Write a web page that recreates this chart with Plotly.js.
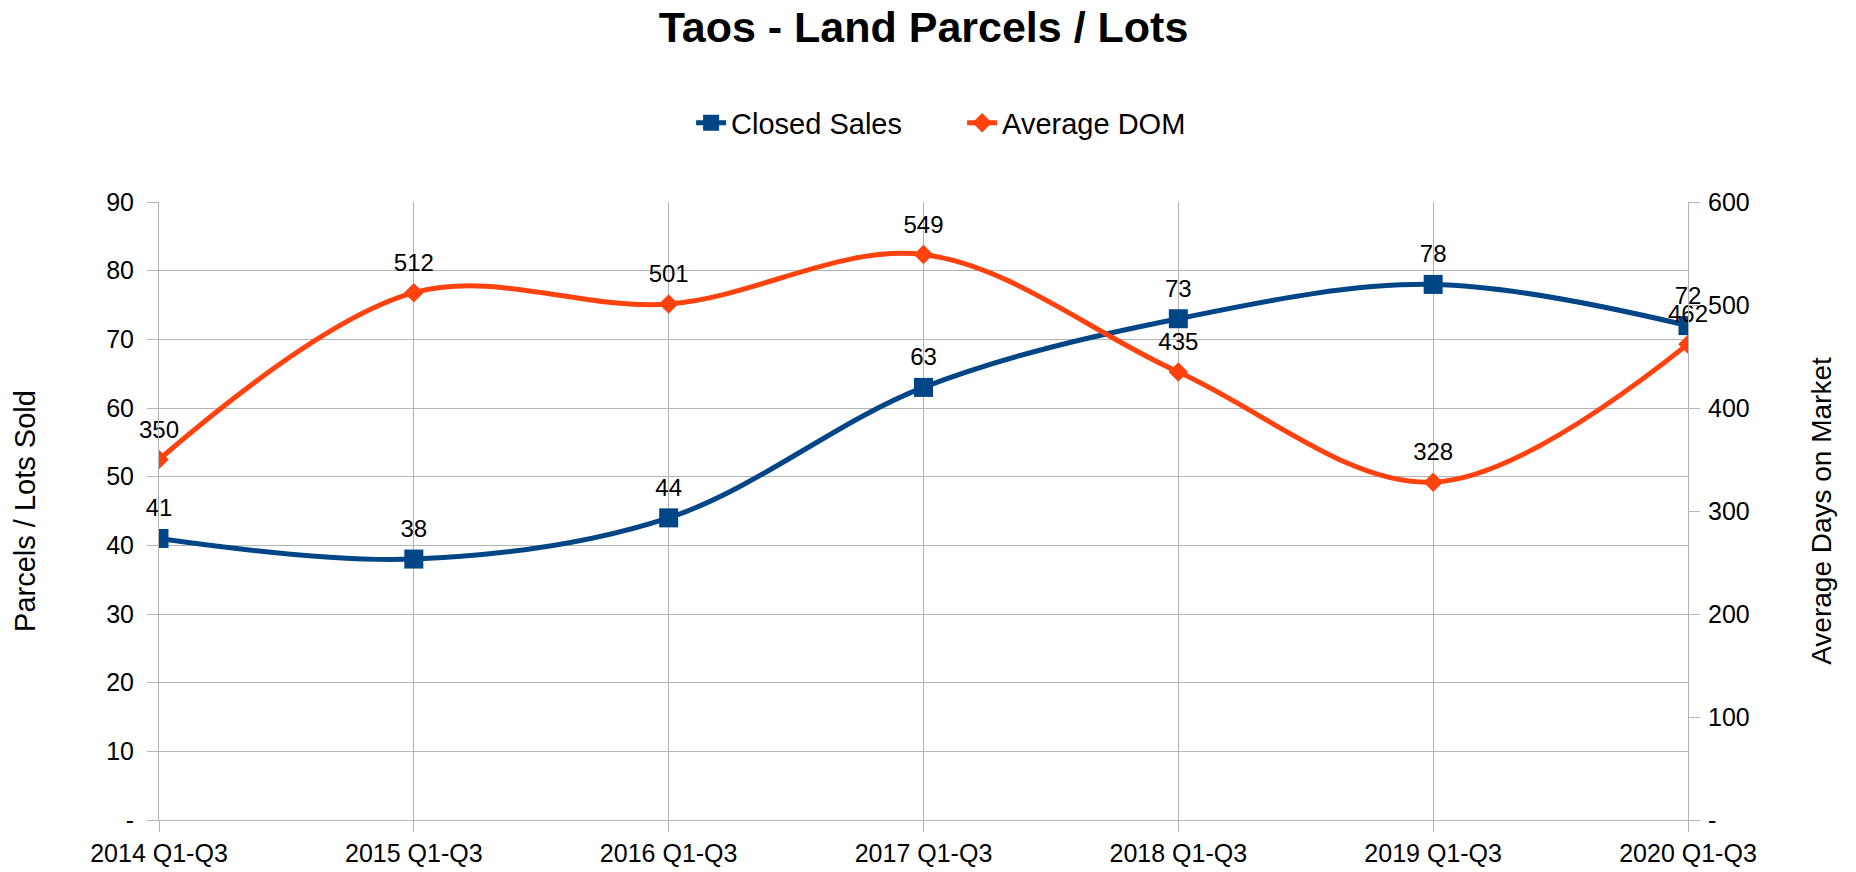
<!DOCTYPE html>
<html>
<head>
<meta charset="utf-8">
<script src="https://cdn.plot.ly/plotly-3.0.1.min.js"></script>
<style>
  html, body { margin: 0; padding: 0; background: #ffffff; }
  #chart { width: 1856px; height: 872px; }
</style>
</head>
<body>
<div id="chart"></div>
<script>
const periods = [
  "2014 Q1-Q3", "2015 Q1-Q3", "2016 Q1-Q3", "2017 Q1-Q3",
  "2018 Q1-Q3", "2019 Q1-Q3", "2020 Q1-Q3",
];
const closedSales = [41, 38, 44, 63, 73, 78, 72];
const averageDom = [350, 512, 501, 549, 435, 328, 462];

const leftTicks = [0, 10, 20, 30, 40, 50, 60, 70, 80, 90];
const leftTickText = ["-", "10", "20", "30", "40", "50", "60", "70", "80", "90"];
const rightTicks = [0, 100, 200, 300, 400, 500, 600];
const rightTickText = ["-", "100", "200", "300", "400", "500", "600"];

const font = "Liberation Sans, Arial, sans-serif";
const blue = "#004586";
const orange = "#ff420e";
const grid = "#b3b3b3";

// value labels sit a little higher above the points than plotly's default
// offset, so they ride on a transparent, larger marker in their own trace
const labelTrace = (values, axis) => ({
  type: "scatter",
  mode: "markers+text",
  x: periods,
  y: values,
  yaxis: axis,
  text: values.map(String),
  textposition: "top center",
  textfont: { family: font, size: 24, color: "#000000" },
  cliponaxis: false,
  marker: { size: 24, color: "rgba(0,0,0,0)" },
  showlegend: false,
  hoverinfo: "skip",
});

const traces = [
  {
    type: "scatter",
    mode: "lines+markers",
    name: "Closed Sales",
    x: periods,
    y: closedSales,
    line: { color: blue, width: 5, shape: "spline", smoothing: 1 },
    marker: { symbol: "square", size: 19, color: blue },
  },
  {
    type: "scatter",
    mode: "lines+markers",
    name: "Average DOM",
    x: periods,
    y: averageDom,
    yaxis: "y2",
    line: { color: orange, width: 5, shape: "spline", smoothing: 1 },
    marker: { symbol: "diamond", size: 15, color: orange },
  },
  labelTrace(closedSales, "y"),
  labelTrace(averageDom, "y2"),
];

const layout = {
  width: 1856,
  height: 872,
  margin: { l: 159, r: 168, t: 202, b: 52 },
  paper_bgcolor: "#ffffff",
  plot_bgcolor: "#ffffff",
  font: { family: font, size: 25, color: "#000000" },
  showlegend: true,
  title: {
    text: "<b>Taos - Land Parcels / Lots</b>",
    font: { family: font, size: 43, color: "#000000" },
    x: 0.5,
    xref: "paper",
    y: 0.969,
    yref: "container",
    yanchor: "middle",
  },
  legend: {
    orientation: "h",
    x: 0.348,
    xanchor: "left",
    y: 1.128,
    yanchor: "middle",
    entrywidth: 226,
    entrywidthmode: "pixels",
    font: { family: font, size: 29 },
  },
  xaxis: {
    type: "category",
    range: [0, 6],
    showgrid: true,
    gridcolor: grid,
    showline: true,
    linecolor: grid,
    ticks: "outside",
    ticklen: 11,
    tickcolor: grid,
    tickfont: { family: font, size: 25 },
    zeroline: false,
  },
  yaxis: {
    range: [0, 90],
    tickvals: leftTicks,
    ticktext: leftTickText,
    showgrid: true,
    gridcolor: grid,
    showline: true,
    linecolor: grid,
    ticks: "outside",
    ticklen: 11,
    tickcolor: grid,
    ticklabelstandoff: 8,
    zeroline: false,
    tickfont: { family: font, size: 25 },
    title: {
      text: "Parcels / Lots Sold",
      font: { family: font, size: 29 },
      standoff: 62,
    },
  },
  yaxis2: {
    overlaying: "y",
    side: "right",
    range: [0, 600],
    tickvals: rightTicks,
    ticktext: rightTickText,
    showgrid: false,
    showline: true,
    linecolor: grid,
    ticks: "outside",
    ticklen: 11,
    tickcolor: grid,
    ticklabelstandoff: 3,
    zeroline: false,
    tickfont: { family: font, size: 25 },
    title: {
      text: "Average Days on Market",
      font: { family: font, size: 28 },
      standoff: 62,
    },
  },
};

Plotly.newPlot("chart", traces, layout, { displayModeBar: false, responsive: false });
</script>
</body>
</html>
